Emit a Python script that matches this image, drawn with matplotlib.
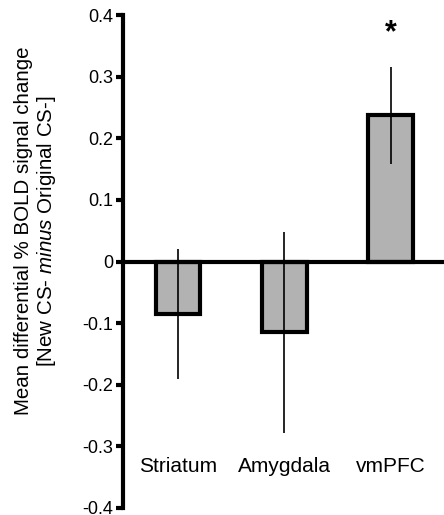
import matplotlib
matplotlib.use("Agg")
import matplotlib.pyplot as plt
import numpy as np

plt.rcParams["font.family"] = ["Liberation Sans", "DejaVu Sans"]
plt.rcParams["mathtext.fontset"] = "custom"
plt.rcParams["mathtext.it"] = "Liberation Sans:italic"
plt.rcParams["mathtext.rm"] = "Liberation Sans"

regions = ["Striatum", "Amygdala", "vmPFC"]
means = [-0.085, -0.115, 0.237]
errors = [0.105, 0.163, 0.078]
yticks = [-0.4, -0.3, -0.2, -0.1, 0, 0.1, 0.2, 0.3, 0.4]
ytick_labels = ["-0.4", "-0.3", "-0.2", "-0.1", "0", "0.1", "0.2", "0.3", "0.4"]

fig = plt.figure(figsize=(4.44, 5.15), dpi=100)
ax = fig.add_axes([123 / 444, 1 - 508 / 515, 1 - 123 / 444, 493 / 515])

x = np.arange(len(regions))
ax.bar(x, means, width=0.42, color="#b2b2b2", edgecolor="black", linewidth=3, zorder=2)
ax.errorbar(x, means, yerr=errors, fmt="none", ecolor="black", elinewidth=1.2,
            capsize=0, zorder=3)
ax.axhline(0, color="black", linewidth=3, zorder=4)

ax.set_xlim(-0.516, 2.5)
ax.set_ylim(-0.4, 0.4)
ax.set_yticks(yticks)
ax.set_yticklabels(ytick_labels, fontsize=13)
ax.set_xticks([])
for s in ["top", "right", "bottom"]:
    ax.spines[s].set_visible(False)
ax.spines["left"].set_linewidth(3)
ax.tick_params(axis="y", width=3, length=5, pad=2)

for xi, name in zip(x, regions):
    ax.text(xi, -0.332, name, ha="center", va="center", fontsize=15)

ax.text(x[2], 0.37, "*", ha="center", va="center", fontsize=22, fontweight="bold")

fig.text(36 / 444, 1 - 231 / 515,
         "Mean differential % BOLD signal change\n[New CS- $\\it{minus}$ Original CS-]",
         rotation=90, ha="center", va="center", multialignment="center",
         fontsize=14.8, linespacing=1.15)

fig.savefig("out.png", dpi=100)
